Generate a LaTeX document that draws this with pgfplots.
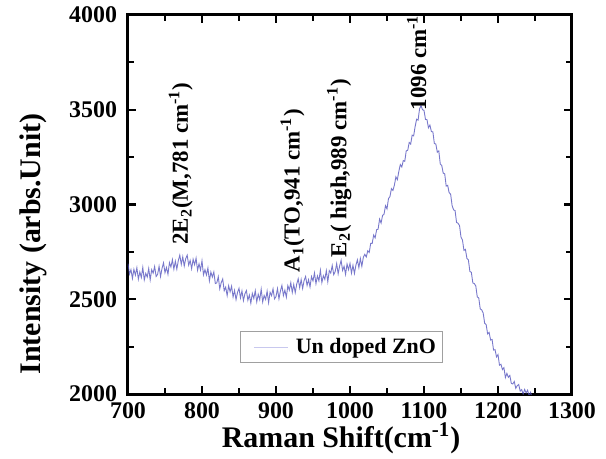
\documentclass[border=0pt]{standalone}
\usepackage{fontspec}
\setmainfont{Liberation Serif}
\usepackage{pgfplots}
\pgfplotsset{compat=1.18}
\definecolor{spec}{RGB}{75,75,185}
\definecolor{legline}{RGB}{200,200,238}
\definecolor{legdraw}{RGB}{160,160,160}
\pgfplotstableread{
x y
700 2688
702 2633
704 2656
706 2610
708 2658
710 2627
712 2666
714 2606
716 2644
718 2615
720 2668
722 2602
724 2637
726 2617
728 2662
730 2602
732 2656
734 2638
736 2673
738 2620
740 2631
742 2674
744 2620
746 2663
748 2692
750 2640
752 2668
754 2632
756 2693
758 2670
760 2709
762 2659
764 2701
766 2659
768 2704
770 2733
772 2684
774 2724
776 2675
778 2714
780 2733
782 2680
784 2705
786 2661
788 2711
790 2682
792 2717
794 2653
796 2687
798 2654
800 2703
802 2629
804 2656
806 2628
808 2665
810 2597
812 2643
814 2617
816 2644
818 2583
820 2586
822 2619
824 2555
826 2588
828 2607
830 2545
832 2564
834 2519
836 2571
838 2539
840 2569
842 2512
844 2547
846 2498
848 2536
850 2558
852 2507
854 2544
856 2493
858 2529
860 2546
862 2495
864 2522
866 2479
868 2531
870 2504
872 2545
874 2486
876 2526
878 2498
880 2553
882 2486
884 2520
886 2499
888 2543
890 2482
892 2537
894 2519
896 2555
898 2502
900 2514
902 2556
904 2502
906 2544
908 2573
910 2520
912 2548
914 2511
916 2572
918 2548
920 2587
922 2536
924 2578
926 2535
928 2580
930 2608
932 2561
934 2604
936 2557
938 2599
940 2620
942 2573
944 2603
946 2565
948 2620
950 2597
952 2639
954 2582
956 2623
958 2597
960 2653
962 2588
964 2624
966 2605
968 2651
970 2592
972 2651
974 2638
976 2678
978 2630
980 2646
982 2688
984 2634
986 2676
988 2705
990 2652
992 2674
994 2631
996 2686
998 2656
1000 2689
1002 2638
1004 2679
1006 2636
1008 2680
1010 2708
1012 2667
1014 2715
1016 2674
1018 2721
1020 2737
1022 2723
1024 2756
1026 2747
1028 2795
1030 2795
1032 2839
1034 2824
1036 2867
1038 2870
1040 2923
1042 2902
1044 2942
1046 2949
1048 2994
1050 2977
1052 3031
1054 3042
1056 3084
1058 3074
1060 3102
1062 3146
1064 3131
1066 3175
1068 3211
1070 3198
1072 3232
1074 3228
1076 3283
1078 3286
1080 3327
1082 3319
1084 3366
1086 3362
1088 3411
1090 3450
1092 3445
1094 3505
1096 3522
1098 3500
1100 3497
1102 3449
1104 3448
1106 3405
1108 3419
1110 3385
1112 3383
1114 3322
1116 3319
1118 3276
1120 3283
1122 3214
1124 3206
1126 3165
1128 3162
1130 3097
1132 3101
1134 3062
1136 3054
1138 2994
1140 2972
1142 2968
1144 2905
1146 2901
1148 2889
1150 2828
1152 2812
1154 2758
1156 2763
1158 2716
1160 2707
1162 2647
1164 2642
1166 2586
1168 2583
1170 2570
1172 2512
1174 2507
1176 2449
1178 2444
1180 2427
1182 2373
1184 2366
1186 2317
1188 2325
1190 2285
1192 2288
1194 2232
1196 2234
1198 2196
1200 2208
1202 2152
1204 2157
1206 2129
1208 2139
1210 2087
1212 2109
1214 2088
1216 2098
1218 2056
1220 2053
1222 2066
1224 2030
1226 2044
1228 2050
1230 2015
1232 2023
1234 1999
1236 2024
1238 2006
1240 2020
1242 1990
1244 2009
1246 1983
}\spectrum
\begin{document}
\begin{tikzpicture}
\begin{axis}[
  at={(0,0)}, anchor=south west,
  scale only axis, width=222bp, height=189.5bp,
  xmin=700, xmax=1300, ymin=2000, ymax=4000,
  xtick={700,800,...,1300}, minor xtick={750,850,...,1250},
  ytick={2000,2500,...,4000}, minor ytick={2250,2750,3250,3750},
  tick align=inside,
  major tick length=4bp, minor tick length=3bp,
  every tick/.style={black, line width=1.1bp},
  every outer x axis line/.append style={line width=1.5bp},
  every outer y axis line/.append style={line width=1.5bp},
  axis line style={line width=1.5bp},
  /pgf/number format/assume math mode=true,
  /pgf/number format/1000 sep={},
  ticklabel style={font=\fontsize{12}{12}\selectfont\bfseries},
  xticklabel style={anchor=base, yshift=-12bp, inner sep=0pt},
  yticklabel style={anchor=east, xshift=-2bp},
  xlabel={Raman Shift(cm\textsuperscript{-1})},
  ylabel={Intensity (arbs.Unit)},
  label style={font=\fontsize{15}{16}\selectfont\bfseries, inner sep=0pt},
  xlabel style={at={(axis description cs:0.48,-0.14)}, anchor=base},
  ylabel style={at={(axis description cs:-0.198,0.396)}, anchor=base},
  legend style={at={(axis description cs:0.252,0.166)}, anchor=north west, draw=legdraw, line width=0.6bp, font=\fontsize{11}{11}\selectfont\bfseries, inner sep=1.2bp},
  legend image code/.code={\path[draw=none] (0bp,0bp) -- (24.5bp,0bp); \draw[legline, line width=0.6bp, opacity=1] (5.5bp,0bp) -- (22.5bp,0bp);},
]
\addplot[spec, line width=0.45bp, opacity=0.75] table[x=x, y=y] {\spectrum};
\addlegendentry{Un doped ZnO}
\begin{scope}[every node/.style={rotate=90, anchor=base west, inner sep=0pt, font=\fontsize{11.5}{11.5}\selectfont\bfseries}]
\node at (axis cs:781,2786) {2E\textsubscript{2}(M,781 cm\textsuperscript{-1})};
\node at (axis cs:932,2640) {A\textsubscript{1}(TO,941 cm\textsuperscript{-1})};
\node at (axis cs:995,2720) {E\textsubscript{2}( high,989 cm\textsuperscript{-1})};
\node at (axis cs:1103,3495) {1096 cm\textsuperscript{-1}};
\end{scope}
\end{axis}
\pgfresetboundingbox
\path[use as bounding box] (-64bp,-32.5bp) rectangle (239bp,197bp);
\end{tikzpicture}
\end{document}
